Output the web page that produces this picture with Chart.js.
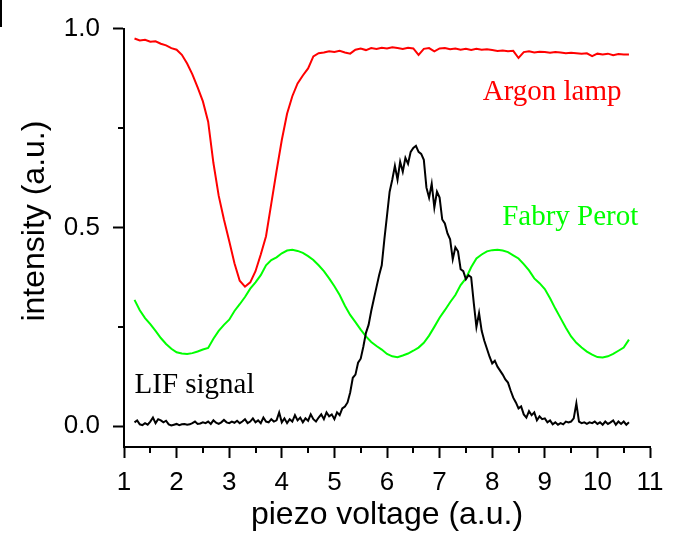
<!DOCTYPE html>
<html>
<head>
<meta charset="utf-8">
<script src="https://cdn.jsdelivr.net/npm/chart.js@4"></script>
<style>
  body { margin: 0; background: #fff; }
  #wrap { position: relative; width: 677px; height: 541px; }
  #edge { position: absolute; left: 0; top: 0; width: 2px; height: 27px; background: #000; }
</style>
</head>
<body>
<div id="wrap">
  <canvas id="lifChart" width="677" height="541"></canvas>
  <div id="edge"></div>
</div>
<script>
// axis ticks
const xTicks = [1, 2, 3, 4, 5, 6, 7, 8, 9, 10, 11];
const xMinor = [1.5, 2.5, 3.5, 4.5, 5.5, 6.5, 7.5, 8.5, 9.5, 10.5];
const yTicks = [0, 0.5, 1.0];
const yTickLabels = ['0.0', '0.5', '1.0'];
const yMinor = [0.25, 0.75];

// Argon lamp (red)
const argonX = [1.2, 1.3, 1.4, 1.5, 1.6, 1.7, 1.8, 1.9, 2.0, 2.1, 2.2, 2.3, 2.4, 2.5, 2.6, 2.7, 2.8, 2.9, 3.0,
  3.1, 3.2, 3.3, 3.4, 3.5, 3.6, 3.7, 3.8, 3.9, 4.0, 4.1, 4.2, 4.3, 4.4, 4.5, 4.6, 4.7,
  4.8, 4.9, 5.0, 5.1, 5.2, 5.3, 5.4, 5.5, 5.6, 5.7, 5.8, 5.9, 6.0, 6.1, 6.2, 6.3, 6.4, 6.5, 6.6, 6.7, 6.8, 6.9,
  7.0, 7.1, 7.2, 7.3, 7.4, 7.5, 7.6, 7.7, 7.8, 7.9, 8.0, 8.1, 8.2, 8.3, 8.4, 8.5, 8.6, 8.7, 8.8, 8.9,
  9.0, 9.1, 9.2, 9.3, 9.4, 9.5, 9.6, 9.7, 9.8, 9.9, 10.0, 10.1, 10.2, 10.3, 10.4, 10.5, 10.6];
const argonY = [0.975, 0.970, 0.972, 0.967, 0.968, 0.962, 0.958, 0.951, 0.947, 0.934, 0.912, 0.885, 0.852, 0.817, 0.766, 0.662, 0.580, 0.520, 0.466,
  0.410, 0.366, 0.351, 0.362, 0.390, 0.432, 0.478, 0.560, 0.642, 0.720, 0.786, 0.830, 0.862, 0.882, 0.900, 0.930, 0.938,
  0.940, 0.943, 0.941, 0.944, 0.940, 0.937, 0.947, 0.950, 0.946, 0.951, 0.949, 0.952, 0.950, 0.953, 0.951, 0.949, 0.952, 0.950, 0.934, 0.949, 0.951, 0.943,
  0.950, 0.951, 0.948, 0.950, 0.947, 0.949, 0.946, 0.949, 0.947, 0.948, 0.946, 0.944, 0.945, 0.943, 0.944, 0.926, 0.941, 0.943, 0.940, 0.942,
  0.941, 0.939, 0.941, 0.940, 0.938, 0.939, 0.938, 0.937, 0.938, 0.931, 0.937, 0.935, 0.937, 0.933, 0.936, 0.935, 0.935];

// Fabry Perot (green)
const fabryX = [1.2, 1.3, 1.4, 1.5, 1.6, 1.7, 1.8, 1.9, 2.0, 2.1, 2.2, 2.3, 2.4, 2.5, 2.6, 2.7, 2.8, 2.9, 3.0,
  3.1, 3.2, 3.3, 3.4, 3.5, 3.6, 3.7, 3.8, 3.9, 4.0, 4.1, 4.2, 4.3, 4.4, 4.5, 4.6, 4.7,
  4.8, 4.9, 5.0, 5.1, 5.2, 5.3, 5.4, 5.5, 5.6, 5.7, 5.8, 5.9, 6.0, 6.1, 6.2, 6.3, 6.4, 6.5, 6.6, 6.7, 6.8, 6.9,
  7.0, 7.1, 7.2, 7.3, 7.4, 7.5, 7.6, 7.7, 7.8, 7.9, 8.0, 8.1, 8.2, 8.3, 8.4, 8.5, 8.6, 8.7, 8.8, 8.9,
  9.0, 9.1, 9.2, 9.3, 9.4, 9.5, 9.6, 9.7, 9.8, 9.9, 10.0, 10.1, 10.2, 10.3, 10.4, 10.5, 10.6];
const fabryY = [0.318, 0.292, 0.272, 0.257, 0.240, 0.222, 0.207, 0.195, 0.186, 0.183, 0.182, 0.184, 0.188, 0.193, 0.197, 0.220, 0.240, 0.255, 0.268,
  0.290, 0.307, 0.325, 0.346, 0.362, 0.380, 0.405, 0.418, 0.425, 0.435, 0.442, 0.444, 0.441, 0.436, 0.428, 0.418, 0.405,
  0.390, 0.372, 0.352, 0.330, 0.303, 0.280, 0.262, 0.243, 0.226, 0.212, 0.202, 0.193, 0.182, 0.176, 0.174, 0.178, 0.183, 0.190, 0.198, 0.210, 0.228, 0.250,
  0.273, 0.292, 0.312, 0.330, 0.355, 0.372, 0.400, 0.422, 0.432, 0.440, 0.443, 0.444, 0.442, 0.438, 0.430, 0.422, 0.408, 0.392, 0.372, 0.360,
  0.345, 0.322, 0.296, 0.272, 0.248, 0.226, 0.210, 0.198, 0.188, 0.180, 0.174, 0.173, 0.176, 0.182, 0.190, 0.198, 0.218];

// LIF signal (black)
const lifX = [1.2, 1.25, 1.3, 1.35, 1.4, 1.45, 1.5, 1.55, 1.6, 1.65, 1.7, 1.75, 1.8, 1.85, 1.9, 1.95,
  2.0, 2.05, 2.1, 2.15, 2.2, 2.25, 2.3, 2.35, 2.4, 2.45, 2.5, 2.55, 2.6, 2.65, 2.7, 2.75, 2.8, 2.85, 2.9, 2.95,
  3.0, 3.05, 3.1, 3.15, 3.2, 3.25, 3.3, 3.35, 3.4, 3.45, 3.5, 3.55, 3.6, 3.65, 3.7, 3.75, 3.8, 3.85, 3.9, 3.95,
  4.0, 4.05, 4.1, 4.15, 4.2, 4.25, 4.3, 4.35, 4.4, 4.45, 4.5, 4.55, 4.6, 4.65, 4.7, 4.75, 4.8, 4.85, 4.9, 4.95,
  5.0, 5.05, 5.1, 5.15, 5.2, 5.25, 5.3, 5.35, 5.4, 5.45, 5.5, 5.55, 5.6, 5.65, 5.7, 5.75, 5.8, 5.85, 5.9, 5.95,
  6.0, 6.05, 6.1, 6.15, 6.2, 6.25, 6.3, 6.35, 6.4, 6.45, 6.5, 6.55, 6.6, 6.65, 6.7, 6.75, 6.8, 6.85, 6.9, 6.95,
  7.0, 7.05, 7.1, 7.15, 7.2, 7.25, 7.3, 7.35, 7.4, 7.45, 7.5, 7.55, 7.6, 7.65, 7.7, 7.75, 7.8, 7.85, 7.9, 7.95,
  8.0, 8.05, 8.1, 8.15, 8.2, 8.25, 8.3, 8.35, 8.4, 8.45, 8.5, 8.55, 8.6, 8.65, 8.7, 8.75, 8.8, 8.85, 8.9, 8.95,
  9.0, 9.05, 9.1, 9.15, 9.2, 9.25, 9.3, 9.35, 9.4, 9.45, 9.5, 9.55, 9.6, 9.65, 9.7, 9.75, 9.8, 9.85, 9.9, 9.95,
  10.0, 10.05, 10.1, 10.15, 10.2, 10.25, 10.3, 10.35, 10.4, 10.45, 10.5, 10.55, 10.6];
const lifY = [0.010, 0.015, 0.005, 0.003, 0.008, 0.004, 0.012, 0.022, 0.008, 0.018, 0.015, 0.010, 0.014, 0.005, 0.002, 0.004,
  0.006, 0.003, 0.005, 0.006, 0.004, 0.005, 0.008, 0.012, 0.006, 0.007, 0.010, 0.008, 0.012, 0.006, 0.015, 0.009, 0.006, 0.010, 0.016, 0.010,
  0.008, 0.012, 0.009, 0.014, 0.008, 0.012, 0.018, 0.008, 0.012, 0.020, 0.010, 0.015, 0.008, 0.022, 0.012, 0.010, 0.018, 0.012, 0.015, 0.035,
  0.010, 0.020, 0.008, 0.018, 0.012, 0.028, 0.015, 0.022, 0.010, 0.020, 0.014, 0.030, 0.018, 0.012, 0.022, 0.030, 0.018, 0.035, 0.025, 0.030,
  0.018, 0.035, 0.028, 0.045, 0.050, 0.060, 0.085, 0.122, 0.130, 0.160, 0.170, 0.200, 0.235, 0.255, 0.290, 0.320, 0.350, 0.380, 0.405, 0.470,
  0.530, 0.590, 0.620, 0.655, 0.620, 0.665, 0.640, 0.675, 0.660, 0.690, 0.700, 0.705, 0.690, 0.685, 0.670, 0.600, 0.575, 0.610, 0.550, 0.590,
  0.575, 0.520, 0.510, 0.485, 0.470, 0.420, 0.450, 0.440, 0.395, 0.390, 0.370, 0.380, 0.375, 0.310, 0.250, 0.285, 0.240, 0.215, 0.195, 0.175,
  0.158, 0.165, 0.150, 0.140, 0.130, 0.118, 0.110, 0.090, 0.072, 0.060, 0.045, 0.050, 0.030, 0.022, 0.038, 0.028, 0.035, 0.015, 0.025, 0.018,
  0.020, 0.010, 0.015, 0.005, 0.010, 0.004, 0.008, 0.005, 0.012, 0.010, 0.012, 0.020, 0.058, 0.012, 0.008, 0.010, 0.006, 0.010, 0.008, 0.012,
  0.006, 0.010, 0.004, 0.012, 0.006, 0.010, 0.015, 0.004, 0.012, 0.006, 0.012, 0.004, 0.010];

function toPoints(xs, ys) {
  return xs.map((x, i) => ({ x: x, y: ys[i] }));
}

// minor ticks, curve labels and the y title
const extras = {
  id: 'extras',
  afterDraw(chart) {
    const ctx = chart.ctx;
    const xs = chart.scales.x;
    const ys = chart.scales.y;
    ctx.save();
    ctx.strokeStyle = '#000';
    ctx.lineWidth = 2;
    xMinor.forEach(v => {
      const px = Math.round(xs.getPixelForValue(v));
      ctx.beginPath();
      ctx.moveTo(px, xs.top);
      ctx.lineTo(px, xs.top + 6);
      ctx.stroke();
    });
    yMinor.forEach(v => {
      const py = Math.round(ys.getPixelForValue(v));
      ctx.beginPath();
      ctx.moveTo(ys.right, py);
      ctx.lineTo(ys.right - 6, py);
      ctx.stroke();
    });

    ctx.font = '29px "Liberation Serif", "Times New Roman", serif';
    ctx.textAlign = 'left';
    ctx.textBaseline = 'alphabetic';
    ctx.fillStyle = '#ff0000';
    ctx.fillText('Argon lamp', xs.getPixelForValue(7.82), ys.getPixelForValue(0.82));
    ctx.fillStyle = '#00ff00';
    ctx.fillText('Fabry Perot', xs.getPixelForValue(8.19), ys.getPixelForValue(0.506));
    ctx.fillStyle = '#000';
    ctx.fillText('LIF signal', xs.getPixelForValue(1.2), ys.getPixelForValue(0.083));

    ctx.translate(35, ys.getPixelForValue(0.516));
    ctx.rotate(-Math.PI / 2);
    ctx.font = '32px "Liberation Sans", Arial, sans-serif';
    ctx.textAlign = 'center';
    ctx.textBaseline = 'middle';
    ctx.fillText('intensity (a.u.)', 0, 0);
    ctx.restore();
  }
};

const ctx = document.getElementById('lifChart').getContext('2d');
new Chart(ctx, {
  type: 'scatter',
  data: {
    datasets: [
      { label: 'LIF signal', data: toPoints(lifX, lifY), borderColor: '#000000' },
      { label: 'Argon lamp', data: toPoints(argonX, argonY), borderColor: '#ff0000' },
      { label: 'Fabry Perot', data: toPoints(fabryX, fabryY), borderColor: '#00ff00' }
    ]
  },
  options: {
    responsive: false,
    animation: false,
    devicePixelRatio: 1,
    showLine: true,
    layout: { padding: { left: 0, top: 25, right: 27, bottom: 0 } },
    elements: {
      point: { radius: 0, hoverRadius: 0 },
      line: { borderWidth: 2, tension: 0, fill: false }
    },
    plugins: {
      legend: { display: false },
      tooltip: { enabled: false }
    },
    scales: {
      x: {
        type: 'linear',
        min: 1,
        max: 11,
        afterBuildTicks: s => { s.ticks = xTicks.map(v => ({ value: v })); },
        afterFit: s => { s.height = 94; },
        grid: { drawOnChartArea: false, tickLength: 11, tickWidth: 2, tickColor: '#000' },
        border: { display: true, color: '#000', width: 2 },
        ticks: {
          color: '#000',
          padding: 9,
          autoSkip: false,
          maxRotation: 0,
          font: { family: '"Liberation Sans", Arial, sans-serif', size: 26 },
          callback: v => String(v)
        },
        title: {
          display: true,
          text: 'piezo voltage (a.u.)',
          color: '#000',
          font: { family: '"Liberation Sans", Arial, sans-serif', size: 32, lineHeight: 1.2 },
          padding: { top: 0, bottom: 7 }
        }
      },
      y: {
        type: 'linear',
        min: -0.052,
        max: 1.0,
        afterBuildTicks: s => { s.ticks = yTicks.map(v => ({ value: v })); },
        afterFit: s => { s.width = 124; },
        grid: { drawOnChartArea: false, tickLength: 11, tickWidth: 2, tickColor: '#000' },
        border: { display: true, color: '#000', width: 2 },
        ticks: {
          color: '#000',
          padding: 13,
          font: { family: '"Liberation Sans", Arial, sans-serif', size: 26 },
          callback: (v, i) => yTickLabels[i]
        }
      }
    }
  },
  plugins: [extras]
});
</script>
</body>
</html>
